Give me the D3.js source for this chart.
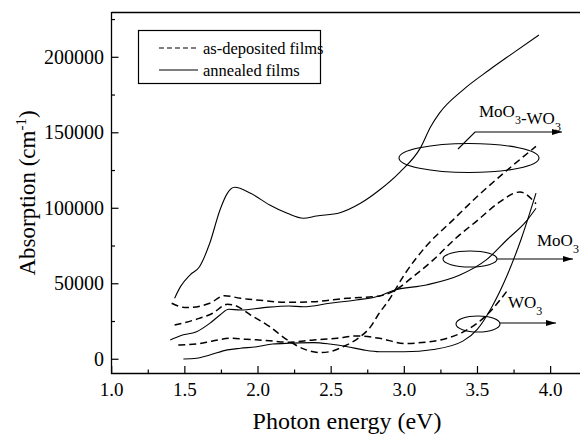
<!DOCTYPE html>
<html><head><meta charset="utf-8">
<script src="https://cdn.jsdelivr.net/npm/d3@7"></script>
<style>body{margin:0;background:#fff}svg{display:block}</style>
</head><body><svg id="c" width="580" height="436" font-family="'Liberation Serif', 'Times New Roman', Tinos, 'DejaVu Serif', serif"></svg>
<script>
// ---- data (photon energy eV, absorption cm^-1) ----
const mixAnnealed = [[1.43,40400],[1.47,48100],[1.535,55800],[1.60,61300],[1.67,76800],[1.74,98900],[1.79,109900],[1.84,113900],[1.95,109900],[2.08,102200],[2.20,96700],[2.31,93400],[2.40,94900],[2.56,97100],[2.70,103300],[2.83,112100],[2.97,124000],[3.11,140000],[3.18,154000],[3.24,163000],[3.40,178300],[3.58,191600],[3.74,202600],[3.92,214800]];
const mixDeposited = [[1.43,22700],[1.58,26500],[1.69,30500],[1.79,36400],[1.83,36000],[1.95,29300],[2.08,21600],[2.20,12800],[2.33,6200],[2.42,4400],[2.49,5000],[2.58,8300],[2.70,15000],[2.77,21600],[2.82,29300],[2.9,40000],[3.0,56000],[3.15,75000],[3.33,92000],[3.5,108000],[3.7,125000],[3.9,141000]];
const mooDeposited = [[1.41,37100],[1.51,34200],[1.67,37100],[1.77,42100],[1.88,40400],[2.04,38800],[2.20,37700],[2.38,38100],[2.61,40400],[2.83,41900],[2.92,44800],[3.06,54700],[3.2,66000],[3.35,80000],[3.5,92000],[3.65,104000],[3.79,110800],[3.9,103000]];
const mooAnnealed = [[1.40,12800],[1.47,15600],[1.58,18300],[1.67,23800],[1.74,29300],[1.80,33100],[1.88,32600],[2.04,34200],[2.21,35300],[2.31,34800],[2.49,37100],[2.67,39300],[2.83,41900],[2.92,45400],[3.15,49200],[3.38,55800],[3.56,65800],[3.70,79000],[3.84,92200],[3.9,100000]];
const woDeposited = [[1.455,9500],[1.58,10100],[1.69,12100],[1.81,13900],[1.92,13200],[2.08,12300],[2.20,11300],[2.38,12800],[2.54,13900],[2.67,15400],[2.83,13900],[3.0,10500],[3.2,12000],[3.4,18000],[3.5,24000],[3.6,33000],[3.7,45000]];
const woAnnealed = [[1.49,200],[1.58,700],[1.67,2800],[1.79,6200],[1.88,7300],[1.99,8300],[2.10,10100],[2.22,10600],[2.38,11000],[2.49,10100],[2.61,8300],[2.72,6200],[2.83,5000],[3.0,5000],[3.2,6500],[3.4,12000],[3.5,20000],[3.6,35000],[3.7,55000],[3.8,80000],[3.9,110000]];
const xTicks = [1.0,1.5,2.0,2.5,3.0,3.5,4.0];
const yTicks = [0,50000,100000,150000,200000];
const legendLabels = ["as-deposited films","annealed films"];

const svg = d3.select("#c");
const x = d3.scaleLinear().domain([1,4.2]).range([111.7,579.9]);
const y = d3.scaleLinear().domain([-9300,230000]).range([373.3,12]);

// frame
svg.append("path").attr("d",`M111.5,12.5H582M111.5,12V373.5H582`).attr("fill","none").attr("stroke","#000").attr("stroke-width",1.3);

// ticks (inward)
const xMinor = d3.range(1.25,4.2,0.5);
const yMinor = d3.range(0,230000,25000).filter(v=>v%50000!==0);
const g = svg.append("g").attr("stroke","#000").attr("stroke-width",1.2);
xTicks.forEach(t=>g.append("line").attr("x1",x(t)).attr("x2",x(t)).attr("y1",373).attr("y2",366));
xMinor.forEach(t=>g.append("line").attr("x1",x(t)).attr("x2",x(t)).attr("y1",373).attr("y2",369.5));
yTicks.forEach(t=>g.append("line").attr("x1",111.5).attr("x2",118.5).attr("y1",y(t)).attr("y2",y(t)));
yMinor.forEach(t=>g.append("line").attr("x1",111.5).attr("x2",115).attr("y1",y(t)).attr("y2",y(t)));

xTicks.forEach(t=>svg.append("text").attr("x",x(t)).attr("y",396).attr("text-anchor","middle").attr("font-size",19).text(t.toFixed(1)));
yTicks.forEach(t=>svg.append("text").attr("x",104).attr("y",y(t)+6.5).attr("text-anchor","end").attr("font-size",20).text(t));

svg.append("text").attr("x",347).attr("y",429).attr("text-anchor","middle").attr("font-size",24).text("Photon energy (eV)");
const yt = svg.append("text").attr("transform","translate(35,193) rotate(-90)").attr("text-anchor","middle").attr("font-size",23);
yt.append("tspan").text("Absorption (cm");
yt.append("tspan").attr("dy",-9).attr("font-size",15).text("-1");
yt.append("tspan").attr("dy",9).text(")");

// curves
const line = d3.line().x(d=>x(d[0])).y(d=>y(d[1])).curve(d3.curveMonotoneX);
const solid = [mixAnnealed,mooAnnealed,woAnnealed];
const dashed = [mixDeposited,mooDeposited,woDeposited];
solid.forEach(s=>svg.append("path").attr("d",line(s)).attr("fill","none").attr("stroke","#000").attr("stroke-width",1.1));
dashed.forEach(s=>svg.append("path").attr("d",line(s)).attr("fill","none").attr("stroke","#000").attr("stroke-width",1.5).attr("stroke-dasharray","7,4"));

// legend
svg.append("rect").attr("x",138.5).attr("y",30.5).attr("width",182).attr("height",53).attr("fill","#fff").attr("stroke","#000").attr("stroke-width",1.2);
svg.append("line").attr("x1",159).attr("x2",198).attr("y1",48).attr("y2",48).attr("stroke","#000").attr("stroke-width",1.2).attr("stroke-dasharray","5,3");
svg.append("line").attr("x1",159).attr("x2",198).attr("y1",70).attr("y2",70).attr("stroke","#000").attr("stroke-width",1.2);
svg.append("text").attr("x",203).attr("y",54).attr("font-size",16.5).text(legendLabels[0]);
svg.append("text").attr("x",203).attr("y",76).attr("font-size",16.5).text(legendLabels[1]);

// annotations
svg.append("defs").append("marker").attr("id","ah").attr("viewBox","0 0 10 6").attr("refX",10).attr("refY",3)
  .attr("markerWidth",10).attr("markerHeight",6).attr("markerUnits","userSpaceOnUse").attr("orient","auto")
  .append("path").attr("d","M0,0L10,3L0,6Z").attr("fill","#000");
const ann = svg.append("g").attr("stroke","#000").attr("fill","none").attr("stroke-width",1.1);
ann.append("ellipse").attr("cx",469).attr("cy",158).attr("rx",70).attr("ry",14.5);
ann.append("path").attr("d","M458,149L475,132H562").attr("marker-end","url(#ah)");
ann.append("ellipse").attr("cx",470).attr("cy",259).attr("rx",27).attr("ry",8);
ann.append("path").attr("d","M497,259H573").attr("marker-end","url(#ah)");
ann.append("ellipse").attr("cx",478).attr("cy",324).attr("rx",22).attr("ry",8);
ann.append("path").attr("d","M500,323H556").attr("marker-end","url(#ah)");

function chem(xp,yp,parts){
  const t = svg.append("text").attr("x",xp).attr("y",yp).attr("font-size",17);
  parts.forEach(p=>{
    if(p.sub){ t.append("tspan").attr("dy",7).attr("font-size",12).text(p.s); t.append("tspan").attr("dy",-7).text(""); }
    else t.append("tspan").text(p.s);
  });
}
chem(479,117,[{s:"MoO"},{s:"3",sub:1},{s:"-WO"},{s:"3",sub:1}]);
chem(537,246,[{s:"MoO"},{s:"3",sub:1}]);
chem(508,308,[{s:"WO"},{s:"3",sub:1}]);
</script></body></html>
